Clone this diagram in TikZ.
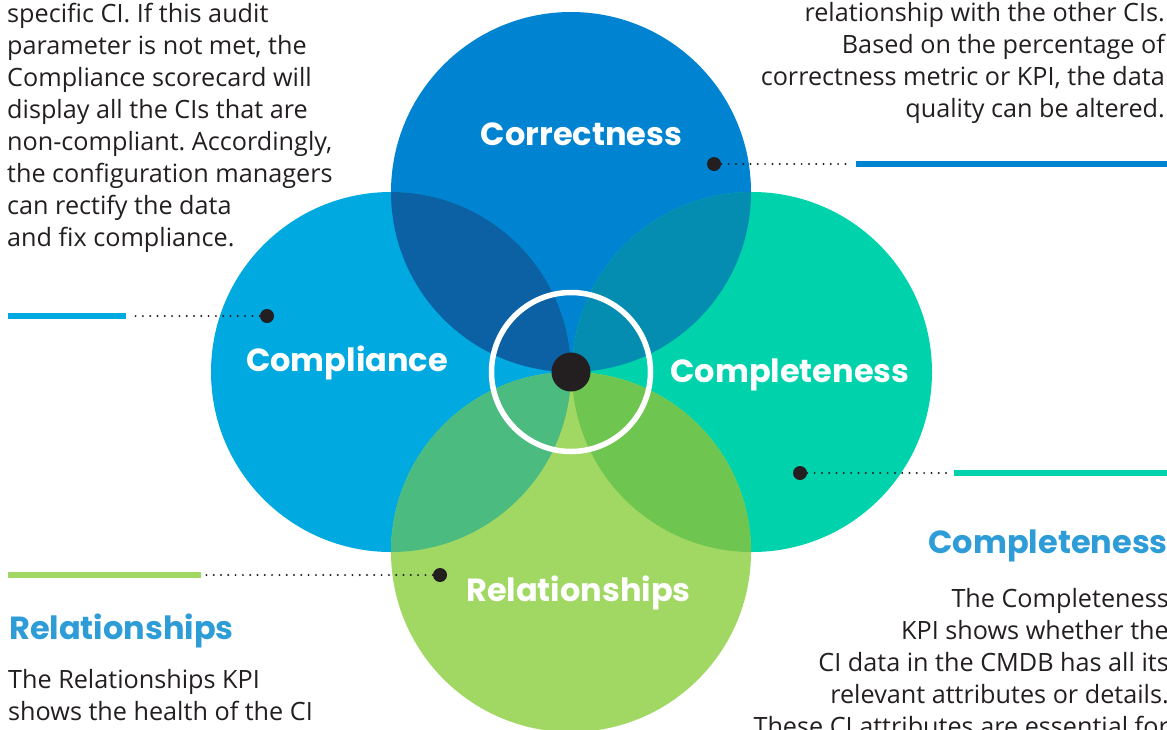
\documentclass[tikz,border=0pt]{standalone}
\usepackage{fontspec}
\setmainfont{Open Sans}
\newfontfamily\pop{Poppins}
\frenchspacing

% palette
\definecolor{ctop}{HTML}{0083D1}
\definecolor{cleft}{HTML}{00A9DF}
\definecolor{cright}{HTML}{00D2AC}
\definecolor{cbot}{HTML}{A0D863}
\definecolor{lensTL}{HTML}{0C61A5}
\definecolor{lensTR}{HTML}{048DB0}
\definecolor{lensBL}{HTML}{4BBB80}
\definecolor{lensBR}{HTML}{6EC651}
\definecolor{headblue}{HTML}{2D9CD7}
\definecolor{ink}{HTML}{231F20}

\begin{document}
\begin{tikzpicture}[x=1pt,y=-1pt,
  body/.style={font=\fontsize{25.2}{32}\selectfont, text=ink, inner sep=0pt},
  circlabel/.style={font=\pop\bfseries\fontsize{32}{38}\selectfont, text=white, inner sep=0pt, anchor=base},
  heading/.style={font=\pop\bfseries\fontsize{32}{38}\selectfont, text=headblue, inner sep=0pt},
  pin/.style={circle, fill=ink, minimum size=14pt, inner sep=0pt},
  leader/.style={draw=ink, line width=2.2pt, line cap=round, dash pattern=on 0pt off 7.3pt},
  bar/.style={line width=6pt},
]
\useasboundingbox (0,0) rectangle (1167,729);
\clip (0,0) rectangle (1167,729);

% four overlapping circles
\fill[ctop]   (571,192) circle [radius=180];
\fill[cleft]  (391,372) circle [radius=180];
\fill[cright] (752,372) circle [radius=180];
\fill[cbot]   (571,552) circle [radius=180];

% overlap lenses
\begin{scope}
  \clip (571,192) circle [radius=180];
  \fill[lensTL] (391,372) circle [radius=180];
  \fill[lensTR] (752,372) circle [radius=180];
\end{scope}
\begin{scope}
  \clip (571,552) circle [radius=180];
  \fill[lensBL] (391,372) circle [radius=180];
  \fill[lensBR] (752,372) circle [radius=180];
\end{scope}

% centre ring and hub
\node[circle, draw=white, line width=5.5pt, minimum size=159pt, inner sep=0pt] (ring) at (571,372) {};
\node[circle, fill=ink, minimum size=39pt, inner sep=0pt] (hub) at (571,372) {};

% circle labels
\node[circlabel] (lCorr) at (581.5,145) {Correctness};
\node[circlabel] (lComp) at (347,371) {Compliance};
\node[circlabel] (lCompl) at (790,382) {Completeness};
\node[circlabel] (lRel) at (578.5,601) {Relationships};

% pins, leaders and bars
\node[pin] (pinTR) at (714,164) {};
\coordinate (dotTR) at (851,164);
\coordinate (barTRa) at (856,164);
\coordinate (barTRb) at (1170,164);
\draw[leader] (pinTR.center) -- (dotTR);
\draw[bar, ctop] (barTRa) -- (barTRb);

\node[pin] (pinL) at (267,316) {};
\coordinate (dotL) at (132,316);
\coordinate (barLa) at (8,316);
\coordinate (barLb) at (126,316);
\draw[leader] (pinL.center) -- (dotL);
\draw[bar, cleft] (barLa) -- (barLb);

\node[pin] (pinR) at (800,473) {};
\coordinate (dotR) at (948,473);
\coordinate (barRa) at (954,473);
\coordinate (barRb) at (1170,473);
\draw[leader] (pinR.center) -- (dotR);
\draw[bar, cright] (barRa) -- (barRb);

\node[pin] (pinB) at (440,575) {};
\coordinate (dotB) at (203,575);
\coordinate (barBa) at (8,575);
\coordinate (barBb) at (201,575);
\draw[leader] (pinB.center) -- (dotB);
\draw[bar, cbot] (barBa) -- (barBb);

% text blocks (anchored at the baseline of their last line)
\node[body, anchor=base west, align=left] (txtTL) at (7,246)
  {specific CI. If this audit\\parameter is not met, the\\Compliance scorecard will\\display all the CIs that are\\non-compliant. Accordingly,\\the configuration managers\\can rectify the data\\and fix compliance.};

\node[body, anchor=base east, align=right] (txtTR) at (1165,117)
  {relationship with the other CIs.\\Based on the percentage of\\correctness metric or KPI, the data\\quality can be altered.};

\node[heading, anchor=base west] (hRel) at (9,639) {Relationships};
\node[body, anchor=base west, align=left] (txtBL) at (8,720)
  {The Relationships KPI\\shows the health of the CI};

\node[heading, anchor=base east] (hComp) at (1168,553) {Completeness};
\node[body, anchor=base east, align=right] (txtBR) at (1169,735)
  {The Completeness\\KPI shows whether the\\CI data in the CMDB has all its\\relevant attributes or details.\\These CI attributes are essential for};
\end{tikzpicture}
\end{document}
